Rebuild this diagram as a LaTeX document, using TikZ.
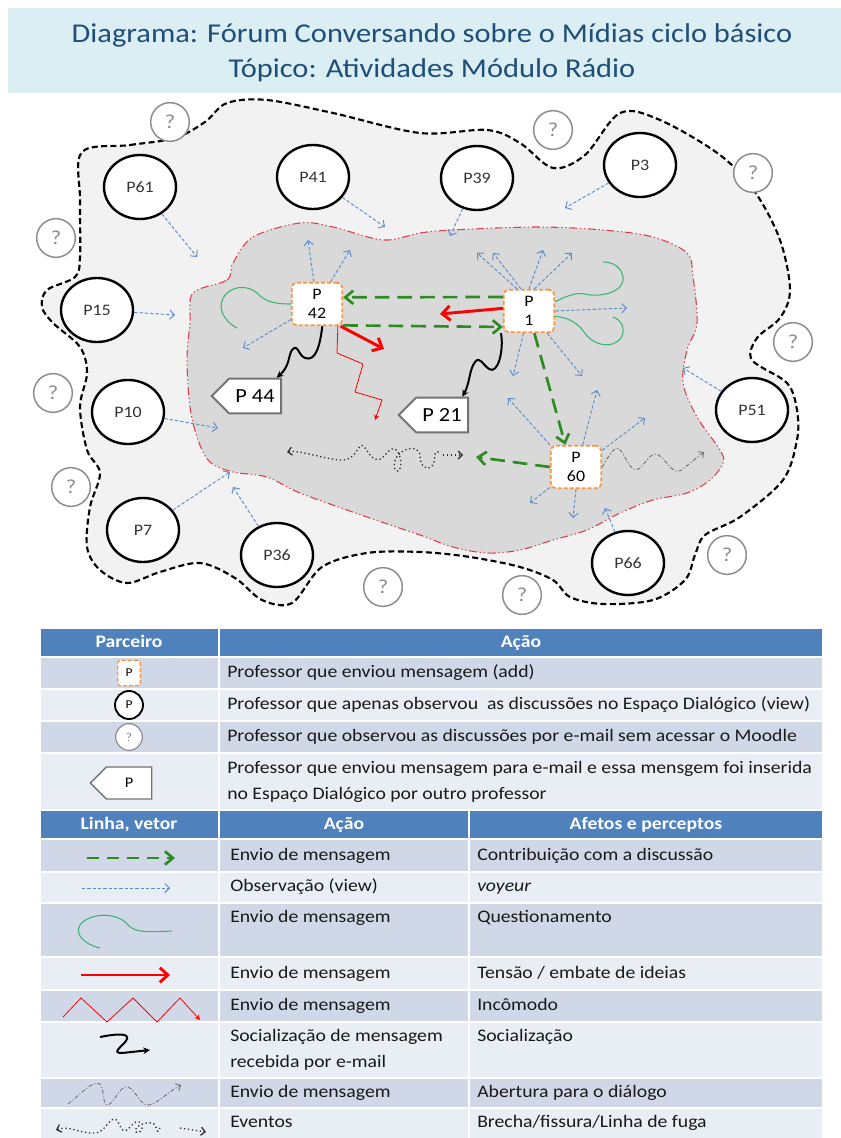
\documentclass[tikz,border=0pt]{standalone}
\usepackage{fontspec}
\setmainfont{Carlito}[FakeStretch=1.12]
\usetikzlibrary{arrows.meta,shapes.geometric,shapes.symbols,calc}
\definecolor{titlebg}{HTML}{DAEEF3}
\definecolor{titlefg}{HTML}{1F4E79}
\definecolor{outerfill}{HTML}{F2F2F2}
\definecolor{innerfill}{HTML}{D9D9D9}
\definecolor{innerline}{HTML}{D9404A}
\definecolor{obsblue}{HTML}{5B8CC8}
\definecolor{sendgreen}{HTML}{2E8B22}
\definecolor{qgreen}{HTML}{3CB371}
\definecolor{addorange}{HTML}{F79646}
\definecolor{hdrblue}{HTML}{4F81BD}
\definecolor{rowdark}{HTML}{D0D8E8}
\definecolor{rowlight}{HTML}{E9EDF4}
\definecolor{qgray}{HTML}{8C8C8C}
\tikzset{
  viewer/.style={ellipse, draw=black, line width=1.8pt, fill=white, minimum width=54pt, minimum height=48pt, inner sep=0pt, text=black!80, font=\fontsize{12}{14}\selectfont},
  unknown/.style={circle, draw=qgray, line width=1.1pt, fill=white, minimum size=29pt, inner sep=0pt, text=qgray, font=\fontsize{15}{15}\selectfont},
  adder/.style={rectangle, rounded corners=4pt, draw=addorange, dash pattern=on 3pt off 1.5pt, line width=1.3pt, fill=white, minimum width=38pt, minimum height=32pt, align=center, font=\fontsize{12}{14}\selectfont, inner sep=1pt},
  mailer/.style={signal, signal to=west, draw=black!55, line width=1.5pt, fill=white, minimum width=52pt, minimum height=26pt, font=\fontsize{15}{15}\selectfont},
  obs/.style={draw=obsblue, line width=0.7pt, dash pattern=on 2.5pt off 1.5pt, -{Straight Barb[length=3.5pt,width=7pt]}},
  send/.style={draw=sendgreen, line width=2pt, dash pattern=on 11pt off 6pt, -{Straight Barb[length=6pt,width=10pt]}},
  tens/.style={draw=red, line width=2.2pt, -{Straight Barb[length=6pt,width=11pt]}},
  quest/.style={draw=qgreen, line width=0.8pt},
  social/.style={draw=black, line width=1.5pt, -{Stealth[length=5pt,width=5pt]}},
  incom/.style={draw=red, line width=0.6pt, -{Stealth[length=4pt,width=4pt]}},
  opening/.style={draw=black!55, line width=0.7pt, dash pattern=on 3pt off 1.5pt on 0.8pt off 1.5pt, -{Straight Barb[length=3pt,width=6pt]}},
  event/.style={draw=black!80, line width=1pt, dotted},
  eventtip/.style={draw=black!80, line width=1pt, dotted, -{Straight Barb[length=3pt,width=6pt]}},
  cell/.style={anchor=west, inner sep=0pt, text height=9.5pt, text depth=3pt, font=\fontsize{13.2}{15}\selectfont, text=black!90},
  hdr/.style={inner sep=0pt, text height=9.5pt, text depth=3pt, font=\fontsize{13.2}{15}\selectfont\bfseries, text=white},
}
\begin{document}
\begin{tikzpicture}[x=0.75pt,y=-0.75pt]
\useasboundingbox (0,0) rectangle (841,1138);
\fill[white] (0,0) rectangle (841,1138);
% title
\fill[titlebg] (8,8) rectangle (841,93);
\node[text=titlefg, font=\fontsize{20.4}{24}\selectfont] (title1) at (432,35) {Diagrama: Fórum Conversando sobre o Mídias ciclo básico};
\node[text=titlefg, font=\fontsize{20.4}{24}\selectfont] (title2) at (432,70) {Tópico: Atividades Módulo Rádio};

% outer blob
\draw[fill=outerfill, line width=1.6pt, dash pattern=on 4.5pt off 2.5pt] plot[smooth cycle, tension=0.55] coordinates {
(82,152) (130,145) (175,138) (205,122) (227,103) (267,100) (333,113) (420,133) (487,130) (520,143) (553,168) (585,155) (620,113) (660,120) (720,155) (755,192) (780,240) (790,290) (780,318) (757,338) (752,360) (787,383) (797,410) (797,440) (783,480) (740,517) (705,535) (695,555) (685,580) (653,600) (603,604) (570,597) (553,580) (520,567) (470,557) (420,552) (367,553) (322,567) (292,603) (262,600) (235,578) (200,563) (160,572) (127,583) (100,570) (87,547) (90,507) (100,473) (87,450) (80,407) (87,373) (80,347) (53,323) (42,307) (47,290) (75,277) (80,257) (80,200)};

% inner blob
\draw[fill=innerfill, draw=innerline, line width=0.8pt, dash pattern=on 6pt off 2pt on 1pt off 2pt on 1pt off 2pt] plot[smooth cycle, tension=0.55] coordinates {
(193,293) (227,280) (233,263) (253,237) (300,223) (333,227) (383,240) (420,233) (453,230) (537,227) (603,230) (653,237) (687,253) (693,277) (697,323) (687,350) (683,383) (697,417) (720,450) (723,463) (710,480) (687,493) (653,500) (620,513) (587,530) (553,540) (520,550) (487,553) (453,547) (420,535) (367,517) (300,493) (267,477) (233,472) (210,462) (198,440) (190,407) (187,360) (190,323)};

% viewers
\node[viewer] (P61) at (140,187) {P61};
\node[viewer] (P41) at (313,177) {P41};
\node[viewer] (P39) at (477,178) {P39};
\node[viewer] (P3) at (640,165) {P3};
\node[viewer] (P15) at (97,310) {P15};
\node[viewer] (P10) at (128,412) {P10};
\node[viewer] (P7) at (143,530) {P7};
\node[viewer] (P36) at (277,555) {P36};
\node[viewer] (P51) at (752,410) {P51};
\node[viewer] (P66) at (628,563) {P66};

% unknowns
\node[unknown] (q1) at (170,122) {?};
\node[unknown] (q2) at (553,130) {?};
\node[unknown] (q3) at (753,173) {?};
\node[unknown] (q4) at (56,238) {?};
\node[unknown] (q5) at (793,342) {?};
\node[unknown] (q6) at (53,393) {?};
\node[unknown] (q7) at (71,487) {?};
\node[unknown] (q8) at (383,587) {?};
\node[unknown] (q9) at (522,595) {?};
\node[unknown] (q10) at (727,555) {?};

% free-end coordinates
\coordinate (e61) at (197,257);
\coordinate (e41) at (385,227);
\coordinate (e39) at (450,236);
\coordinate (e3) at (565,208);
\coordinate (e15) at (175,315);
\coordinate (e10) at (218,428);
\coordinate (e7) at (230,472);
\coordinate (e36) at (233,487);
\coordinate (e51) at (683,368);
\coordinate (e66) at (605,508);

\node[adder] (P42) at (317,304) {P\\42};
\node[adder] (P1) at (529,311) {P\\1};
\node[adder] (P60) at (576,467) {P\\60};
\node[mailer] (P44) at (255,396) {P 44};
\node[mailer] (P21) at (442,415) {P 21};

% observation arrows from viewers
\draw[obs] (P61) -- (e61);
\draw[obs] (P41) -- (e41);
\draw[obs] (P39) -- (e39);
\draw[obs] (P3) -- (e3);
\draw[obs] (P15) -- (e15);
\draw[obs] (P10) -- (e10);
\draw[obs] (P7) -- (e7);
\draw[obs] (P36) -- (e36);
\draw[obs] (P51) -- (e51);
\draw[obs] (P66) -- (e66);

% observation arrows from adders
\coordinate (a42n) at (308,240);
\coordinate (a42ne) at (350,250);
\coordinate (a42sw) at (243,348);
\draw[obs] (P42) -- (a42n);
\draw[obs] (P42) -- (a42ne);
\draw[obs] (P42) -- (a42sw);
\coordinate (a1a) at (477,253);
\coordinate (a1b) at (493,253);
\coordinate (a1c) at (543,250);
\coordinate (a1d) at (572,253);
\coordinate (a1e) at (627,308);
\coordinate (a1f) at (513,376);
\coordinate (a1g) at (582,376);
\draw[obs] ([xshift=-9pt]P1.north) -- (a1a);
\draw[obs] ([xshift=-6pt]P1.north) -- (a1b);
\draw[obs] (P1.north) -- (a1c);
\draw[obs] ([xshift=4pt]P1.north) -- (a1d);
\draw[obs] (P1.east) -- (a1e);
\draw[obs] (P1) -- (a1f);
\draw[obs] (P1) -- (a1g);
\coordinate (a60a) at (508,398);
\coordinate (a60b) at (597,390);
\coordinate (a60c) at (645,418);
\coordinate (a60d) at (530,503);
\coordinate (a60e) at (573,518);
\draw[obs] (P60.north west) -- (a60a);
\draw[obs] ([xshift=5pt]P60.north) -- (a60b);
\draw[obs] ([yshift=-4pt]P60.north east) -- (a60c);
\draw[obs] (P60) -- (a60d);
\draw[obs] (P60.south) -- (a60e);

% questioning curves
\draw[quest] (P42.west) .. controls (275,304) and (268,302) .. (260,296) .. controls (252,286) and (236,284) .. (226,294) .. controls (216,305) and (222,320) .. (237,328);
\draw[quest] ([yshift=7pt]P1.east) .. controls (565,297) and (575,292) .. (585,294) .. controls (600,298) and (625,292) .. (623,277) .. controls (621,266) and (612,262) .. (603,262);
\draw[quest] ([yshift=-4pt]P1.east) .. controls (567,317) and (578,323) .. (584,332) .. controls (592,345) and (612,350) .. (621,338) .. controls (626,330) and (622,320) .. (613,317);

% green send arrows
\draw[send] ([yshift=10.5pt]P1.west) -- ([yshift=5pt]P42.east);
\draw[send] ([yshift=-16pt]P42.east) -- ([yshift=-12pt]P1.west);
\draw[send] ([xshift=4pt]P1.south) -- ([xshift=-8pt]P60.north);
\coordinate (g60) at (476,457);
\draw[send] (P60.west) -- (g60);

% red tension arrows
\coordinate (r1) at (440,314);
\draw[tens] ([yshift=2pt]P1.west) -- (r1);
\coordinate (r42) at (384,349);
\draw[tens] ([xshift=-2pt]P42.south east) -- (r42);

% red zigzag
\coordinate (z42) at (375,420);
\draw[incom] ([xshift=-4pt]P42.south east) -- (337,353) -- (363,364) -- (355,392) -- (382,400) -- (z42);

% socialization
\draw[social] ([xshift=4pt]P42.south) .. controls (320,345) and (316,362) .. (305,358) .. controls (298,355) and (298,343) .. (292,350) .. controls (288,356) and (290,366) .. ([xshift=-4pt]P44.north east);
\draw[social] ([xshift=-21pt]P1.south) .. controls (504,350) and (498,375) .. (489,369) .. controls (482,364) and (480,356) .. (475,362) .. controls (469,370) and (470,383) .. ([xshift=-5pt]P21.north east);

% opening to dialogue
\coordinate (o60) at (704,452);
\draw[opening] (P60.east) .. controls (612,450) and (616,444) .. (622,452) .. controls (628,462) and (632,474) .. (640,468) .. controls (648,460) and (652,450) .. (660,456) .. controls (668,462) and (674,478) .. (684,468) -- (o60);

% events
\coordinate (ev1) at (287,452);
\coordinate (ev2) at (440,453);
\coordinate (ev3) at (443,455);
\coordinate (ev4) at (463,455);
\draw[event, {Straight Barb[length=3pt,width=6pt]}-] (ev1) .. controls (300,450) and (320,458) .. (340,460) .. controls (352,461) and (356,452) .. (360,446) .. controls (364,442) and (368,456) .. (375,459) .. controls (383,462) and (385,452) .. (392,449) .. controls (400,446) and (404,468) .. (398,471) .. controls (392,472) and (392,455) .. (405,450) .. controls (412,447) and (420,448) .. (420,456) .. controls (420,465) and (426,472) .. (432,466) .. controls (437,460) and (432,448) .. (ev2);
\draw[eventtip] (ev3) -- (ev4);

% ===== table 1 =====
\begin{scope}[draw=white, line width=1.5pt]
\filldraw[fill=hdrblue] (40,628) rectangle (219,657);
\filldraw[fill=hdrblue] (219,628) rectangle (823,657);
\filldraw[fill=rowdark] (40,657) rectangle (219,689);
\filldraw[fill=rowdark] (219,657) rectangle (823,689);
\filldraw[fill=rowlight] (40,689) rectangle (219,721);
\filldraw[fill=rowlight] (219,689) rectangle (823,721);
\filldraw[fill=rowdark] (40,721) rectangle (219,753);
\filldraw[fill=rowdark] (219,721) rectangle (823,753);
\filldraw[fill=rowlight] (40,753) rectangle (219,810);
\filldraw[fill=rowlight] (219,753) rectangle (823,810);
% table 2
\filldraw[fill=hdrblue] (40,810) rectangle (219,839);
\filldraw[fill=hdrblue] (219,810) rectangle (469,839);
\filldraw[fill=hdrblue] (469,810) rectangle (823,839);
\foreach \ya/\yb/\c in {839/872/rowdark, 872/903/rowlight, 903/957/rowdark, 957/990/rowlight, 990/1022/rowdark, 1022/1078/rowlight, 1078/1108/rowdark, 1108/1140/rowlight}{
  \filldraw[fill=\c] (40,\ya) rectangle (219,\yb);
  \filldraw[fill=\c] (219,\ya) rectangle (469,\yb);
  \filldraw[fill=\c] (469,\ya) rectangle (823,\yb);
}
\end{scope}

\node[hdr] (h1a) at (129,643) {Parceiro};
\node[hdr] (h1b) at (521,643) {Ação};
\node[cell] (t1) at (227,673) {Professor que enviou mensagem (add)};
\node[cell] (t2) at (227,705) {Professor que apenas observou\ \ as discussões no Espaço Dialógico (view)};
\node[cell] (t3) at (227,737) {Professor que observou as discussões por e-mail sem acessar o Moodle};
\node[cell] (t4a) at (227,769) {Professor que enviou mensagem para e-mail e essa mensgem foi inserida};
\node[cell] (t4b) at (227,795) {no Espaço Dialógico por outro professor};

% legend icons table 1
\node[adder, minimum width=17pt, minimum height=19pt, rounded corners=2pt, line width=1pt, font=\fontsize{9}{10}\selectfont] (lgA) at (129,673) {P};
\node[circle, draw=black, line width=1.4pt, fill=white, minimum size=21pt, inner sep=0pt, font=\fontsize{9}{10}\selectfont] (lgB) at (129,705) {P};
\node[circle, draw=qgray, line width=0.9pt, fill=white, minimum size=20pt, inner sep=0pt, text=qgray, font=\fontsize{9}{10}\selectfont] (lgC) at (129,737) {?};
\node[signal, signal to=west, draw=black!55, line width=1pt, fill=white, minimum width=46pt, minimum height=24pt, font=\fontsize{11}{11}\selectfont] (lgD) at (129,783) {P};

% table 2 header
\node[hdr] (h2a) at (129,825) {Linha, vetor};
\node[hdr] (h2b) at (344,825) {Ação};
\node[hdr] (h2c) at (646,825) {Afetos e perceptos};

\node[cell] (u1) at (230,856) {Envio de mensagem};
\node[cell] (v1) at (477,856) {Contribuição com a discussão};
\node[cell] (u2) at (230,887) {Observação (view)};
\node[cell] (v2) at (477,887) {\itshape voyeur};
\node[cell] (u3) at (230,918) {Envio de mensagem};
\node[cell] (v3) at (477,918) {Questionamento};
\node[cell] (u4) at (230,974) {Envio de mensagem};
\node[cell] (v4) at (477,974) {Tensão / embate de ideias};
\node[cell] (u5) at (230,1006) {Envio de mensagem};
\node[cell] (v5) at (477,1006) {Incômodo};
\node[cell] (u6a) at (230,1037) {Socialização de mensagem};
\node[cell] (u6b) at (230,1063) {recebida por e-mail};
\node[cell] (v6) at (477,1037) {Socialização};
\node[cell] (u7) at (230,1093) {Envio de mensagem};
\node[cell] (v7) at (477,1093) {Abertura para o diálogo};
\node[cell] (u8) at (230,1123) {Eventos};
\node[cell] (v8) at (477,1123) {Brecha/fissura/Linha de fuga};

% legend line icons
\coordinate (L1a) at (87,858); \coordinate (L1b) at (175,858);
\draw[send, dash pattern=on 9pt off 6pt] (L1a) -- (L1b);
\coordinate (L2a) at (82,888); \coordinate (L2b) at (170,888);
\draw[obs] (L2a) -- (L2b);
\coordinate (L3a) at (172,931); \coordinate (L3b) at (100,948);
\draw[quest] (L3a) .. controls (150,932) and (135,933) .. (128,925) .. controls (118,912) and (90,912) .. (80,925) .. controls (74,935) and (86,945) .. (L3b);
\coordinate (L4a) at (81,975); \coordinate (L4b) at (170,975);
\draw[tens] (L4a) -- (L4b);
\coordinate (L5a) at (63,1017); \coordinate (L5b) at (200,1020);
\draw[incom] (L5a) -- (81,998) -- (107,1022) -- (133,998) -- (157,1022) -- (180,998) -- (L5b);
\coordinate (L6a) at (100,1037); \coordinate (L6b) at (150,1050);
\draw[social] (L6a) .. controls (115,1034) and (132,1032) .. (126,1041) .. controls (120,1048) and (112,1053) .. (122,1053) -- (L6b);
\coordinate (L7a) at (68,1104); \coordinate (L7b) at (181,1085);
\draw[opening] (L7a) .. controls (80,1095) and (92,1080) .. (100,1084) .. controls (105,1090) and (102,1106) .. (108,1105) .. controls (115,1102) and (120,1085) .. (128,1087) .. controls (136,1090) and (140,1106) .. (149,1105) .. controls (158,1103) and (168,1092) .. (L7b);
\coordinate (L8a) at (56,1130); \coordinate (L8b) at (160,1128);
\coordinate (L8c) at (180,1128); \coordinate (L8d) at (206,1132);
\draw[event, {Straight Barb[length=3pt,width=6pt]}-] (L8a) .. controls (70,1125) and (80,1134) .. (95,1133) .. controls (105,1132) and (108,1120) .. (114,1119) .. controls (120,1119) and (120,1134) .. (127,1130) .. controls (132,1126) and (134,1120) .. (140,1122) .. controls (146,1124) and (140,1136) .. (136,1132) .. controls (132,1126) and (150,1120) .. (154,1124) .. controls (158,1128) and (156,1136) .. (L8b);
\draw[eventtip] (L8c) -- (L8d);
\end{tikzpicture}
\end{document}
